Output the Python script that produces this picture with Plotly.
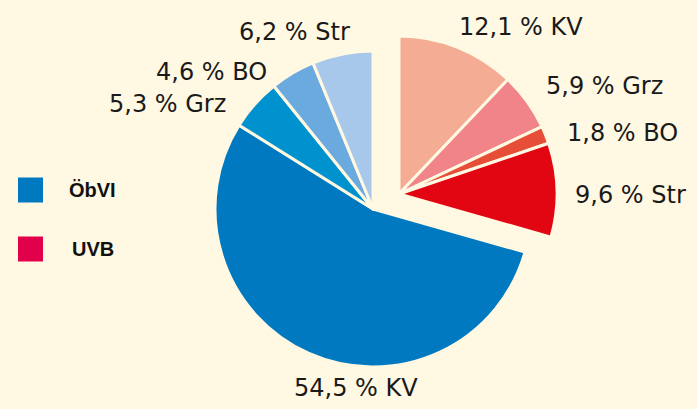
import plotly.graph_objs as go

# Anteile in Prozent
uvb_labels = ["KV", "Grz", "BO", "Str"]
uvb_values = [12.1, 5.9, 1.8, 9.6]
obvi_labels = ["KV", "Grz", "BO", "Str"]
obvi_values = [54.5, 5.3, 4.6, 6.2]
legend_names = ["ÖbVI", "UVB"]

bg = "#FFF8E2"
uvb_colors = ["#F5AC95", "#F08489", "#E74E37", "#E20613"]
obvi_colors = ["#0079C1", "#0092CF", "#6BAADE", "#A7C8EA"]
clear = "rgba(0,0,0,0)"

uvb_total = round(sum(uvb_values), 1)
obvi_total = round(sum(obvi_values), 1)

W, H = 697, 409
R = 158


def dom(cx, cy):
    # pie domain from pixel centre
    return dict(x=[(cx - R) / W, (cx + R) / W], y=[1 - (cy + R) / H, 1 - (cy - R) / H])


# blue part: placeholder for UVB first, then OebVI slices
obvi = go.Pie(
    values=[uvb_total] + obvi_values,
    labels=["UVB"] + ["ÖbVI " + l for l in obvi_labels],
    sort=False, direction="clockwise", rotation=0,
    marker=dict(colors=[clear] + obvi_colors,
                line=dict(color=[clear] + [bg] * 4, width=[0, 3, 3, 3, 3])),
    textinfo="none", hoverinfo="skip", showlegend=False,
    domain=dom(373, 209),
)

# red part, pulled out as a whole group
uvb = go.Pie(
    values=uvb_values + [obvi_total],
    labels=["UVB " + l for l in uvb_labels] + ["ÖbVI"],
    sort=False, direction="clockwise", rotation=0,
    marker=dict(colors=uvb_colors + [clear],
                line=dict(color=[bg] * 4 + [clear], width=[3, 3, 3, 3, 0])),
    textinfo="none", hoverinfo="skip", showlegend=False,
    domain=dom(399, 194),
)

fig = go.Figure(data=[obvi, uvb])


def fmt(v, l):
    return ("%.1f" % v).replace(".", ",") + " % " + l


# label positions (pixels)
uvb_pos = [(521, 27), (604, 86), (622, 133), (630, 195)]
obvi_pos = [(356, 388), (167, 104), (211, 72), (294, 32)]

annotations = []
for v, l, (x, y) in zip(uvb_values, uvb_labels, uvb_pos):
    annotations.append(dict(x=x / W, y=1 - y / H, text=fmt(v, l)))
for v, l, (x, y) in zip(obvi_values, obvi_labels, obvi_pos):
    annotations.append(dict(x=x / W, y=1 - y / H, text=fmt(v, l)))
for a in annotations:
    a.update(xref="paper", yref="paper", showarrow=False,
             xanchor="center", yanchor="middle",
             font=dict(family="DejaVu Sans", size=24, color="#1a1a1a"))

# legend
shapes = []
for name, col, y, tx in zip(legend_names, ["#0079C1", "#E2004A"], [190, 249], [92, 93]):
    shapes.append(dict(type="rect", xref="paper", yref="paper",
                       x0=18 / W, x1=43 / W, y0=1 - (y + 12.5) / H, y1=1 - (y - 12.5) / H,
                       fillcolor=col, line=dict(width=0)))
    annotations.append(dict(x=tx / W, y=1 - y / H, xref="paper", yref="paper",
                            text="<b>" + name + "</b>", showarrow=False,
                            xanchor="center", yanchor="middle",
                            font=dict(family="Liberation Sans", size=20, color="#111111")))

fig.update_layout(
    width=W, height=H,
    margin=dict(l=0, r=0, t=0, b=0),
    paper_bgcolor=bg, plot_bgcolor=bg,
    annotations=annotations, shapes=shapes,
)

fig.write_html("out.html", config={"displayModeBar": False},
               post_script="document.body.style.margin='0';")
